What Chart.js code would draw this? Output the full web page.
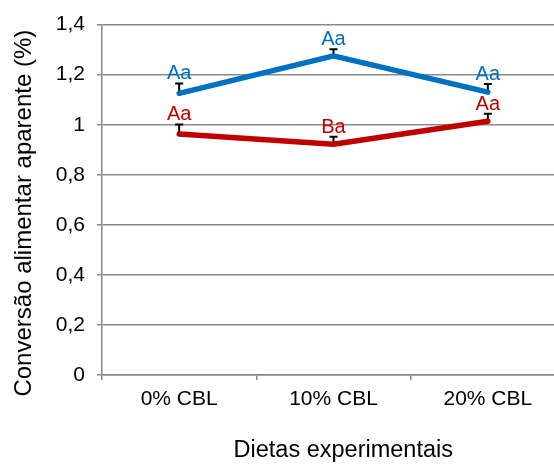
<!DOCTYPE html>
<html>
<head>
<meta charset="utf-8">
<script src="https://cdn.jsdelivr.net/npm/chart.js@4"></script>
<style>
  html, body { margin: 0; padding: 0; background: #fff; overflow: hidden; }
  #chart { display: block; }
</style>
</head>
<body>
<canvas id="chart" width="566" height="465"></canvas>
<script>
// ----- data -----
const dietas = ['0% CBL', '10% CBL', '20% CBL']

const serieAzul = [1.125, 1.275, 1.13]
const erroAzul = [0.04, 0.027, 0.033]
const letrasAzul = ['Aa', 'Aa', 'Aa']

const serieVermelha = [0.963, 0.922, 1.014]
const erroVermelha = [0.038, 0.03, 0.03]
const letrasVermelha = ['Aa', 'Ba', 'Aa']

const yTicks = [0, 0.2, 0.4, 0.6, 0.8, 1, 1.2, 1.4]

const AZUL = '#0070C0'
const VERMELHO = '#C00000'
const CINZA = '#8a8a8a'
const FONTE = '"Liberation Sans", Arial, sans-serif'

// error bars (only the upper half) + letters above them
const errorBars = {
    id: 'errorBars',
    beforeDatasetsDraw(chart) {
        const ctx = chart.ctx
        const y = chart.scales.y
        chart.data.datasets.forEach((ds, i) => {
            const meta = chart.getDatasetMeta(i)
            meta.data.forEach((pt, j) => {
                const top = y.getPixelForValue(ds.data[j] + ds.erros[j])
                ctx.save()
                ctx.strokeStyle = '#000'
                ctx.lineWidth = 2
                ctx.beginPath()
                ctx.moveTo(pt.x, pt.y)
                ctx.lineTo(pt.x, top)
                ctx.moveTo(pt.x - 4, top)
                ctx.lineTo(pt.x + 4, top)
                ctx.stroke()
                ctx.restore()
            })
        })
    },
    afterDatasetsDraw(chart) {
        const ctx = chart.ctx
        const y = chart.scales.y
        chart.data.datasets.forEach((ds, i) => {
            const meta = chart.getDatasetMeta(i)
            meta.data.forEach((pt, j) => {
                const top = y.getPixelForValue(ds.data[j] + ds.erros[j])
                ctx.save()
                ctx.font = '20px ' + FONTE
                ctx.fillStyle = ds.borderColor
                ctx.textAlign = 'center'
                ctx.textBaseline = 'alphabetic'
                ctx.fillText(ds.letras[j], pt.x, top - 4)
                ctx.restore()
            })
        })
    }
}

const ctx = document.getElementById('chart').getContext('2d')
const chart = new Chart(ctx, {
    type: 'line',
    data: {
        labels: dietas,
        datasets: [{
            label: 'azul',
            data: serieAzul,
            erros: erroAzul,
            letras: letrasAzul,
            borderColor: AZUL,
            borderWidth: 5.5,
            borderCapStyle: 'round',
            borderJoinStyle: 'round',
            pointRadius: 0,
            tension: 0
        }, {
            label: 'vermelho',
            data: serieVermelha,
            erros: erroVermelha,
            letras: letrasVermelha,
            borderColor: VERMELHO,
            borderWidth: 5.5,
            borderCapStyle: 'round',
            borderJoinStyle: 'round',
            pointRadius: 0,
            tension: 0
        }]
    },
    options: {
        responsive: false,
        animation: false,
        layout: { padding: { top: 22, right: 1, left: 0, bottom: 0 } },
        plugins: {
            legend: { display: false },
            tooltip: { enabled: false }
        },
        scales: {
            x: {
                offset: true,
                grid: {
                    offset: true,
                    drawOnChartArea: false,
                    drawTicks: true,
                    tickLength: 5,
                    color: CINZA,
                    lineWidth: 1.5
                },
                border: { display: true, color: CINZA, width: 1.5 },
                ticks: {
                    color: '#000',
                    padding: 7,
                    maxRotation: 0,
                    font: { family: FONTE, size: 21 }
                },
                title: {
                    display: true,
                    // leading spaces nudge the centred title right, as in the original
                    text: '   Dietas experimentais',
                    color: '#000',
                    padding: { top: 0, bottom: 0 },
                    font: { family: FONTE, size: 23.5 }
                },
                afterFit(scale) { scale.height = 90 }
            },
            y: {
                min: 0,
                max: 1.4,
                afterBuildTicks(scale) {
                    scale.ticks = yTicks.map(v => ({ value: v }))
                },
                grid: {
                    color: CINZA,
                    lineWidth: 1.5,
                    drawTicks: true,
                    tickLength: 5
                },
                border: { display: true, color: CINZA, width: 1.5 },
                ticks: {
                    color: '#000',
                    padding: 12,
                    font: { family: FONTE, size: 21 },
                    callback: v => String(Math.round(v * 10) / 10).replace('.', ',')
                },
                title: {
                    display: true,
                    // trailing spaces push the rotated title a bit lower
                    text: 'Conversão alimentar aparente (%)    ',
                    color: '#000',
                    padding: { top: 10, bottom: 0 },
                    font: { family: FONTE, size: 24 }
                },
                afterFit(scale) { scale.width = 102 }
            }
        }
    },
    plugins: [errorBars]
})
</script>
</body>
</html>
